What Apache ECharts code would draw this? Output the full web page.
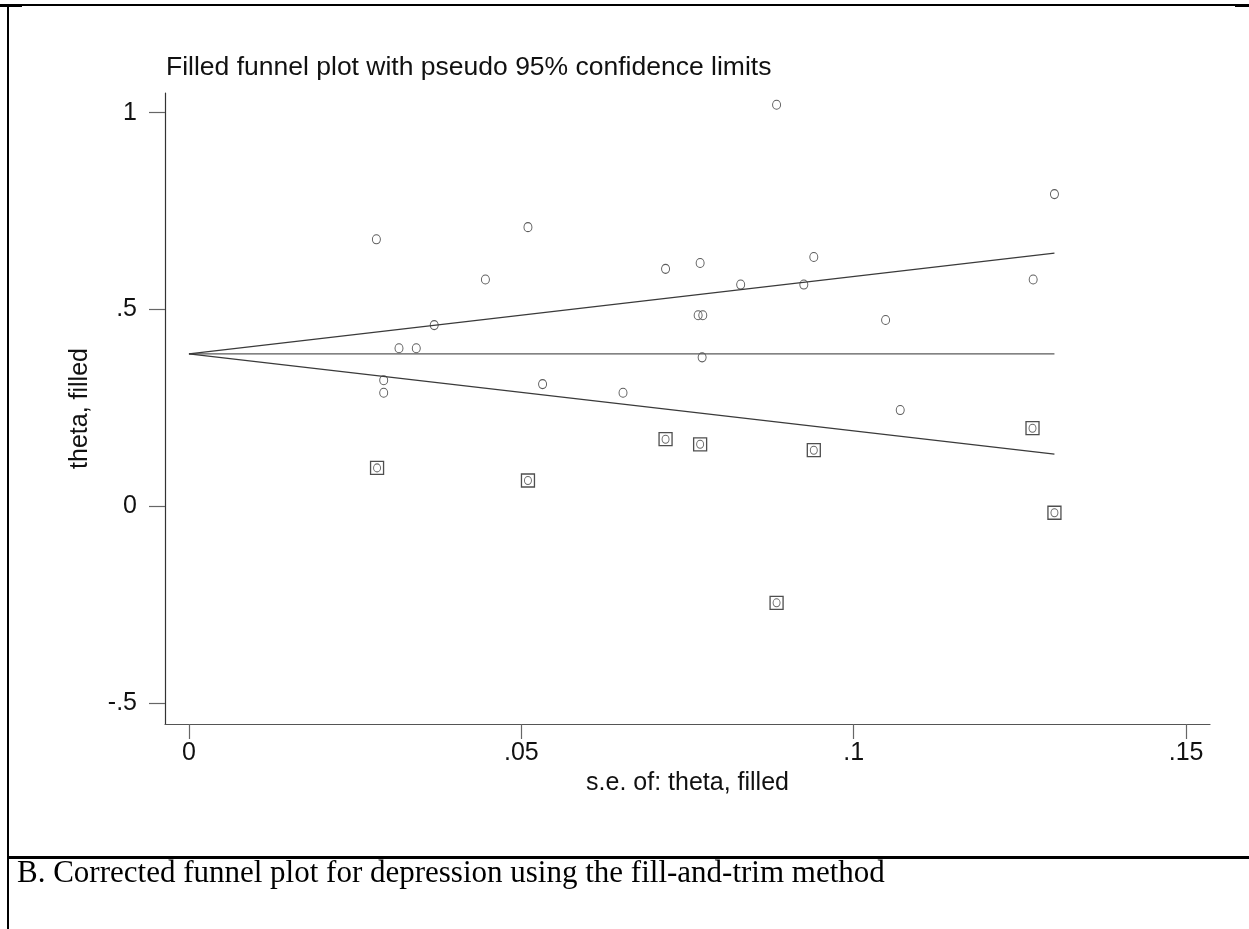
<!DOCTYPE html>
<html>
<head>
<meta charset="utf-8">
<title>Filled funnel plot</title>
<script src="https://cdn.jsdelivr.net/npm/echarts@6/dist/echarts.min.js"></script>
<style>
  html, body { margin: 0; padding: 0; background: #fff; }
  #chart { width: 1249px; height: 929px; }
</style>
</head>
<body>
<div id="chart"></div>
<script>
// observed studies (s.e., theta)
var studySe = [0.0884, 0.1302, 0.0282, 0.0510, 0.0446, 0.0717, 0.0769, 0.0940, 0.0830, 0.0925,
               0.1270, 0.0766, 0.0773, 0.1048, 0.0369, 0.0316, 0.0342, 0.0772, 0.0293, 0.0532,
               0.0293, 0.0653, 0.1070];
var studyTheta = [1.020, 0.793, 0.678, 0.709, 0.576, 0.603, 0.618, 0.633, 0.563, 0.563,
                  0.576, 0.485, 0.485, 0.473, 0.460, 0.401, 0.401, 0.378, 0.320, 0.310,
                  0.288, 0.288, 0.244];

// filled (imputed) studies
var filledSe = [0.0283, 0.0510, 0.0717, 0.0769, 0.0940, 0.0884, 0.1269, 0.1302];
var filledTheta = [0.097, 0.065, 0.170, 0.157, 0.142, -0.246, 0.198, -0.017];

// pooled estimate and pseudo 95% limits, read at both ends
var limitSe = [0, 0.1302];
var pooledLine = [0.387, 0.387];
var upperLine = [0.387, 0.643];
var lowerLine = [0.387, 0.132];

var xTicks = [0, 0.05, 0.1, 0.15];
var yTicks = [-0.5, 0, 0.5, 1];

function pairs(xs, ys) {
  return xs.map(function (x, i) { return [x, ys[i]]; });
}

// stata style: drop leading zero
function stataLabel(v) {
  var s = String(+Number(v).toFixed(3));
  return s.replace(/^(-?)0\./, '$1.');
}

var myChart = echarts.init(document.getElementById('chart'));

var lineStyle = { color: '#3a3a3a', width: 1.3 };

var option = {
  backgroundColor: '#fff',
  animation: false,
  title: {
    text: 'Filled funnel plot with pseudo 95% confidence limits',
    left: 161,
    top: 49,
    textStyle: { fontFamily: 'Liberation Sans, Arial', fontSize: 26.5, fontWeight: 'normal', color: '#111' }
  },
  grid: { left: 165, right: 39, top: 93, bottom: 205 },
  xAxis: {
    type: 'value',
    min: -0.0036,
    max: 0.1536,
    name: 's.e. of: theta, filled',
    nameLocation: 'middle',
    nameGap: 44,
    nameTextStyle: { fontFamily: 'Liberation Sans, Arial', fontSize: 25, color: '#111' },
    axisLine: { show: true, onZero: false, lineStyle: { color: '#555', width: 1.2 } },
    axisTick: { show: true, length: 15, customValues: xTicks, lineStyle: { color: '#666', width: 1.2 } },
    axisLabel: {
      customValues: xTicks, formatter: stataLabel, margin: 17,
      fontFamily: 'Liberation Sans, Arial', fontSize: 25, color: '#111'
    },
    splitLine: { show: false }
  },
  yAxis: {
    type: 'value',
    min: -0.554,
    max: 1.05,
    name: 'theta, filled',
    nameLocation: 'middle',
    nameGap: 72,
    nameRotate: 90,
    nameTextStyle: { fontFamily: 'Liberation Sans, Arial', fontSize: 25, color: '#111' },
    axisLine: { show: true, onZero: false, lineStyle: { color: '#333', width: 1.2 } },
    axisTick: { show: true, length: 16, customValues: yTicks, lineStyle: { color: '#666', width: 1.2 } },
    axisLabel: {
      customValues: yTicks, formatter: stataLabel, margin: 28,
      fontFamily: 'Liberation Sans, Arial', fontSize: 25, color: '#111'
    },
    splitLine: { show: false }
  },
  series: [
    { type: 'line', data: pairs(limitSe, pooledLine), showSymbol: false, silent: true,
      lineStyle: { color: '#5a5a5a', width: 1.3 } },
    { type: 'line', data: pairs(limitSe, upperLine), showSymbol: false, silent: true, lineStyle: lineStyle },
    { type: 'line', data: pairs(limitSe, lowerLine), showSymbol: false, silent: true, lineStyle: lineStyle },
    { type: 'scatter', data: pairs(studySe, studyTheta), symbol: 'circle', symbolSize: [8, 9],
      itemStyle: { color: 'rgba(0,0,0,0)', borderColor: '#333', borderWidth: 1 } },
    { type: 'scatter', data: pairs(filledSe, filledTheta), symbol: 'rect', symbolSize: 13,
      itemStyle: { color: 'rgba(0,0,0,0)', borderColor: '#222', borderWidth: 1.3 } },
    { type: 'scatter', data: pairs(filledSe, filledTheta), symbol: 'circle', symbolSize: [7, 8],
      itemStyle: { color: 'rgba(0,0,0,0)', borderColor: '#444', borderWidth: 1 } }
  ],
  graphic: [
    // page frame bits around the figure
    { type: 'rect', shape: { x: 7, y: 4, width: 1228, height: 2 }, style: { fill: '#000' } },
    { type: 'rect', shape: { x: 0, y: 4, width: 22, height: 3 }, style: { fill: '#000' } },
    { type: 'rect', shape: { x: 1235, y: 4, width: 14, height: 3 }, style: { fill: '#000' } },
    { type: 'rect', shape: { x: 7, y: 4, width: 2, height: 925 }, style: { fill: '#000' } },
    { type: 'rect', shape: { x: 7, y: 856, width: 1242, height: 3 }, style: { fill: '#000' } },
    {
      type: 'text', left: 17, top: 858,
      style: {
        text: 'B. Corrected funnel plot for depression using the fill-and-trim method',
        font: '31px "Liberation Serif", "Times New Roman", serif',
        fill: '#000'
      }
    }
  ]
};

myChart.setOption(option);
window.addEventListener('resize', function () { myChart.resize(); });
</script>
</body>
</html>
